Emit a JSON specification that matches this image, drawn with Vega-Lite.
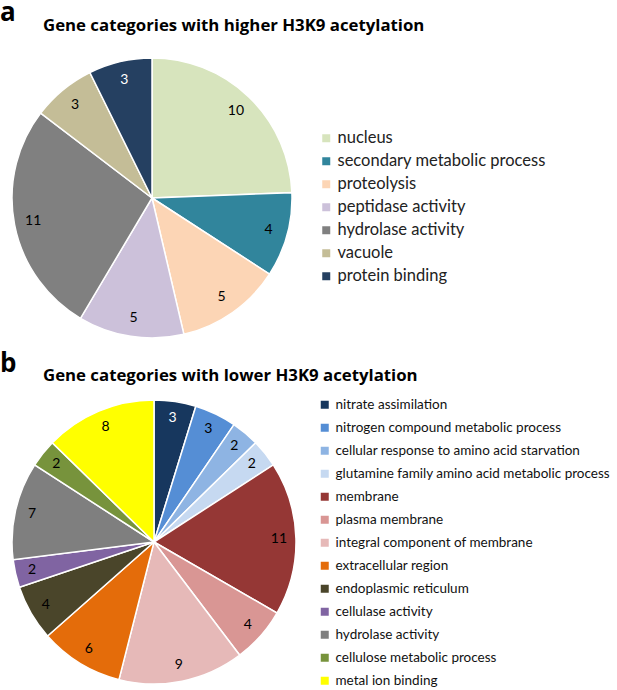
{
  "$schema": "https://vega.github.io/schema/vega-lite/v6.json",
  "padding": 0,
  "background": "white",
  "config": {"view": {"stroke": null}, "font": "Lato", "title": {"color": "black"}},
  "resolve": {"scale": {"color": "independent", "theta": "independent"}, "legend": {"color": "independent"}},
  "spacing": 10,
  "vconcat": [
    {
      "title": {"text": "a", "anchor": "start", "fontSize": 26, "fontWeight": "bold", "font": "Open Sans", "offset": -8},
      "vconcat": [
        {
          "title": {"text": "Gene categories with higher H3K9 acetylation", "anchor": "start", "dx": 43, "fontSize": 16.8, "fontWeight": "bold", "font": "Open Sans", "offset": 20},
          "width": 304,
          "height": 280,
          "data": {"values": [
            {"rank": 1, "category": "nucleus", "count": 10},
            {"rank": 2, "category": "secondary metabolic process", "count": 4},
            {"rank": 3, "category": "proteolysis", "count": 5},
            {"rank": 4, "category": "peptidase activity", "count": 5},
            {"rank": 5, "category": "hydrolase activity", "count": 11},
            {"rank": 6, "category": "vacuole", "count": 3},
            {"rank": 7, "category": "protein binding", "count": 3}
          ]},
          "encoding": {
            "theta": {"field": "count", "type": "quantitative", "stack": true},
            "order": {"field": "rank", "type": "ordinal"}
          },
          "layer": [
            {
              "mark": {"type": "arc", "radius": 140, "stroke": "white", "strokeWidth": 1.5},
              "encoding": {
                "color": {
                  "field": "category", "type": "nominal",
                  "scale": {
                    "domain": ["nucleus", "secondary metabolic process", "proteolysis", "peptidase activity", "hydrolase activity", "vacuole", "protein binding"],
                    "range": ["#d7e4bd", "#31859c", "#fcd5b5", "#ccc1da", "#808080", "#c4bd97", "#254061"]
                  },
                  "legend": {"orient": "none", "legendX": 318, "legendY": 72, "title": null, "symbolType": "square", "symbolSize": 64, "symbolStrokeWidth": 0, "labelFontSize": 16.5, "labelFont": "Lato", "labelColor": "#222", "rowPadding": 6, "labelOffset": 3, "labelLimit": 400}
                }
              }
            },
            {
              "mark": {"type": "text", "radius": 121, "fontSize": 14, "font": "Lato"},
              "encoding": {
                "detail": {"field": "category"},
                "text": {"field": "count", "type": "quantitative"},
                "color": {"condition": {"test": "datum.category === 'protein binding'", "value": "white"}, "value": "black"}
              }
            }
          ]
        }
      ]
    },
    {
      "title": {"text": "b", "anchor": "start", "fontSize": 26, "fontWeight": "bold", "font": "Open Sans", "offset": -9},
      "vconcat": [
        {
          "title": {"text": "Gene categories with lower H3K9 acetylation", "anchor": "start", "dx": 43, "fontSize": 16.8, "fontWeight": "bold", "font": "Open Sans", "offset": 12},
          "width": 308,
          "height": 284,
          "data": {"values": [
            {"rank": 1, "category": "nitrate assimilation", "count": 3},
            {"rank": 2, "category": "nitrogen compound metabolic process", "count": 3},
            {"rank": 3, "category": "cellular response to amino acid starvation", "count": 2},
            {"rank": 4, "category": "glutamine family amino acid metabolic process", "count": 2},
            {"rank": 5, "category": "membrane", "count": 11},
            {"rank": 6, "category": "plasma membrane", "count": 4},
            {"rank": 7, "category": "integral component of membrane", "count": 9},
            {"rank": 8, "category": "extracellular region", "count": 6},
            {"rank": 9, "category": "endoplasmic reticulum", "count": 4},
            {"rank": 10, "category": "cellulase activity", "count": 2},
            {"rank": 11, "category": "hydrolase activity", "count": 7},
            {"rank": 12, "category": "cellulose metabolic process", "count": 2},
            {"rank": 13, "category": "metal ion binding", "count": 8}
          ]},
          "encoding": {
            "theta": {"field": "count", "type": "quantitative", "stack": true},
            "order": {"field": "rank", "type": "ordinal"}
          },
          "layer": [
            {
              "mark": {"type": "arc", "radius": 142, "stroke": "white", "strokeWidth": 1.5},
              "encoding": {
                "color": {
                  "field": "category", "type": "nominal",
                  "scale": {
                    "domain": ["nitrate assimilation", "nitrogen compound metabolic process", "cellular response to amino acid starvation", "glutamine family amino acid metabolic process", "membrane", "plasma membrane", "integral component of membrane", "extracellular region", "endoplasmic reticulum", "cellulase activity", "hydrolase activity", "cellulose metabolic process", "metal ion binding"],
                    "range": ["#17375e", "#558ed5", "#8eb4e3", "#c6d9f1", "#953735", "#d99694", "#e6b9b8", "#e46c0a", "#4a452a", "#8064a2", "#7f7f7f", "#77933c", "#ffff00"]
                  },
                  "legend": {"orient": "none", "legendX": 318, "legendY": -2, "title": null, "symbolType": "square", "symbolSize": 64, "symbolStrokeWidth": 0, "labelFontSize": 13.5, "labelFont": "Lato", "labelColor": "#111", "rowPadding": 8, "labelOffset": 4, "labelLimit": 400}
                }
              }
            },
            {
              "mark": {"type": "text", "radius": 125, "fontSize": 14, "font": "Lato"},
              "encoding": {
                "detail": {"field": "category"},
                "text": {"field": "count", "type": "quantitative"},
                "color": {"condition": {"test": "datum.category === 'nitrate assimilation'", "value": "white"}, "value": "black"}
              }
            }
          ]
        }
      ]
    }
  ]
}
